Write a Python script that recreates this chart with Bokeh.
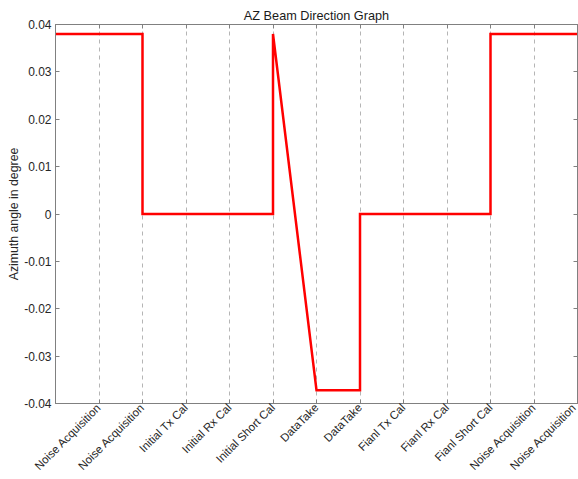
import math
from bokeh.plotting import figure
from bokeh.models import FixedTicker, LinearAxis, Range1d, CustomJSTickFormatter
from bokeh.embed import file_html
from bokeh.resources import INLINE

# ---- data ----
stage_labels = ["Noise Acquisition", "Noise Acquisition", "Initial Tx Cal", "Initial Rx Cal",
                "Initial Short Cal", "DataTake", "DataTake", "Fianl Tx Cal", "Fianl Rx Cal",
                "Fianl Short Cal", "Noise Acquisition", "Noise Acquisition"]
stage_pos = [1, 2, 3, 4, 5, 6, 7, 8, 9, 10, 11, 12]
beam_x = [0, 2, 2, 5, 5, 6, 7, 7, 10, 10, 12]
beam_y = [0.038, 0.038, 0.0, 0.0, 0.038, -0.0372, -0.0372, 0.0, 0.0, 0.038, 0.038]
y_ticks = [-0.04, -0.03, -0.02, -0.01, 0.0, 0.01, 0.02, 0.03, 0.04]
y_tick_labels = ["-0.04", "-0.03", "-0.02", "-0.01", "0", "0.01", "0.02", "0.03", "0.04"]
x_min, x_max = 0, 12
y_min, y_max = -0.04, 0.04

FONT = "Liberation Sans"
AXIS_COLOR = "#808080"
TEXT_COLOR = "#262626"

p = figure(width=578, height=479, output_backend="svg", toolbar_location=None,
           x_range=Range1d(x_min, x_max), y_range=Range1d(y_min, y_max),
           min_border_left=55, min_border_right=1, min_border_top=24, min_border_bottom=76)
p.background_fill_color = "white"
p.border_fill_color = "white"
p.outline_line_color = AXIS_COLOR

p.title.text = "AZ Beam Direction Graph"
p.title.align = "center"
p.title.text_font = FONT
p.title.text_font_size = "12.7px"
p.title.text_font_style = "normal"
p.title.text_color = "#1a1a1a"
p.title.standoff = 3

xfmt = CustomJSTickFormatter(args=dict(names=stage_labels, xpos=stage_pos), code="""
const i = xpos.indexOf(Math.round(tick));
return i >= 0 ? names[i] : '';
""")
yfmt = CustomJSTickFormatter(args=dict(ylabs=y_tick_labels, yvals=y_ticks), code="""
const i = yvals.findIndex(t => Math.abs(t - tick) < 1e-9);
return i >= 0 ? ylabs[i] : '';
""")
blank = CustomJSTickFormatter(code="return '';")

xa = p.xaxis[0]
xa.ticker = FixedTicker(ticks=stage_pos)
xa.formatter = xfmt
xa.major_label_orientation = math.pi / 4
xa.major_label_text_font = FONT
xa.major_label_text_font_size = "11.5px"
xa.major_label_text_color = TEXT_COLOR
xa.major_label_standoff = 2

ya = p.yaxis[0]
ya.ticker = FixedTicker(ticks=y_ticks)
ya.formatter = yfmt
ya.major_label_text_font = FONT
ya.major_label_text_font_size = "12px"
ya.major_label_text_color = TEXT_COLOR
ya.major_label_standoff = 4
ya.axis_label = "Azimuth angle in degree"
ya.axis_label_text_font = FONT
ya.axis_label_text_font_size = "12.3px"
ya.axis_label_text_font_style = "normal"
ya.axis_label_text_color = TEXT_COLOR
ya.axis_label_standoff = 0

for ax in (xa, ya):
    ax.axis_line_color = AXIS_COLOR
    ax.major_tick_line_color = AXIS_COLOR
    ax.major_tick_in = 4
    ax.major_tick_out = 0
    ax.minor_tick_line_color = None

ra = LinearAxis(ticker=FixedTicker(ticks=y_ticks), formatter=blank, major_label_standoff=0,
                major_tick_in=4, major_tick_out=0, minor_tick_line_color=None,
                axis_line_color=AXIS_COLOR, major_tick_line_color=AXIS_COLOR,
                major_label_text_font_size="1px")
p.add_layout(ra, "right")
ta = LinearAxis(ticker=FixedTicker(ticks=stage_pos), formatter=blank, major_label_standoff=0,
                major_tick_in=4, major_tick_out=0, minor_tick_line_color=None,
                axis_line_color=AXIS_COLOR, major_tick_line_color=AXIS_COLOR,
                major_label_text_font_size="1px")
p.add_layout(ta, "above")

p.xgrid.ticker = FixedTicker(ticks=stage_pos)
p.xgrid.grid_line_color = "#b5b5b5"
p.xgrid.grid_line_dash = "4 4"
p.xgrid.grid_line_width = 1
p.ygrid.grid_line_color = None

p.line(beam_x, beam_y, line_color="#ff0000", line_width=2.5, line_join="miter")

open("out.html", "w").write(file_html(p, INLINE))
